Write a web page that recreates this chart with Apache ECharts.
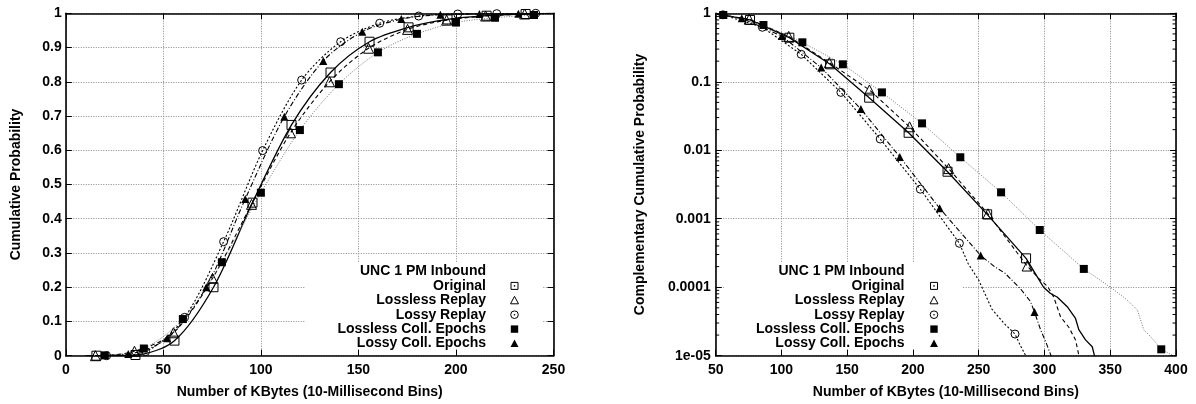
<!DOCTYPE html>
<html><head><meta charset="utf-8">
<script src="https://cdn.jsdelivr.net/npm/echarts@6/dist/echarts.min.js"></script>
<style>html,body{margin:0;padding:0;background:#fff}#c{width:1196px;height:404px}</style>
</head><body><div id="c"></div>
<script>
// ---------- DATA ----------
const seriesNames = ['Original', 'Lossless Replay', 'Lossy Replay', 'Lossless Coll. Epochs', 'Lossy Coll. Epochs'];
const keyTitle = 'UNC 1 PM Inbound';
const xAxisName = 'Number of KBytes (10-Millisecond Bins)';
const cdfYName = 'Cumulative Probability';
const ccdfYName = 'Complementary Cumulative Probability';
const ccdfTickLabels = ['1e-05', '0.0001', '0.001', '0.01', '0.1', '1'];
const ccdfDecades = [1e-5, 1e-4, 1e-3, 1e-2, 1e-1];
const ccdfMinorMultipliers = [2, 3, 4, 5, 6, 7, 8, 9];

// Left chart (CDF): points carrying markers, and extra line-only points
const cdfOriginalMarks = [[15.7,0],[35.7,0.002],[55.7,0.044],[75.7,0.2],[95.7,0.447],[115.7,0.674],[135.7,0.827],[155.7,0.917],[175.7,0.959],[195.7,0.982],[215.7,0.993],[235.7,0.998]];
const cdfOriginalExtra = [[12,0],[250,1]];
const cdfLosslessReplayMarks = [[15.2,0],[35.2,0.013],[55.2,0.067],[75.2,0.226],[95.2,0.442],[115.2,0.651],[135.2,0.80],[155.2,0.898],[175.2,0.953],[195.2,0.98],[215.2,0.992],[235.2,0.998]];
const cdfLosslessReplayExtra = [[12,0],[250,1]];
const cdfLossyReplayMarks = [[20.9,0],[40.9,0.012],[60.9,0.112],[80.9,0.333],[100.9,0.599],[120.9,0.805],[140.9,0.917],[160.9,0.971],[180.9,0.992],[200.9,0.998],[220.9,0.999],[240.9,1]];
const cdfLossyReplayExtra = [[12,0],[250,1]];
const cdfLosslessCollMarks = [[20,0.001],[40,0.021],[60,0.107],[80,0.273],[100,0.476],[120,0.659],[140,0.793],[160,0.886],[180,0.94],[200,0.973],[220,0.987],[240,0.995]];
const cdfLosslessCollExtra = [[12,0],[250,0.998]];
const cdfLossyCollMarks = [[32,0.005],[52,0.051],[72,0.2],[92,0.458],[112,0.698],[132,0.861],[152,0.946],[172,0.983],[192,0.996],[212,0.998],[232,0.999]];
const cdfLossyCollExtra = [[10,0],[250,1]];

// Right chart (CCDF, log scale)
const ccdfOriginalMarks = [[76.1,0.80],[106,0.44],[137,0.18],[166.7,0.0586],[196.7,0.018],[226.3,0.00486],[256.4,0.00116],[286,0.000264]];
const ccdfOriginalExtra = [[50,0.98],[294.4,1.43e-4],[299.3,1.0e-4],[304.6,8.1e-5],[309.6,7.2e-5],[317.3,5.2e-5],[323.6,3.5e-5],[326.1,2.4e-5],[331.2,1.7e-5],[336.3,1.35e-5],[338,1.0e-5],[339,0.9e-5]];
const ccdfLosslessReplayMarks = [[75.5,0.82],[105.5,0.46],[136.4,0.19],[166.9,0.076],[197.4,0.022],[227.1,0.0054],[257,0.00118],[286.8,0.000204]];
const ccdfLosslessReplayExtra = [[50,0.98],[295.6,1.35e-4],[302.5,1.02e-4],[307,7.2e-5],[312.2,3.7e-5],[318.5,2.6e-5],[323.6,1.7e-5],[326.1,1.02e-5],[327,0.9e-5]];
const ccdfLossyReplayMarks = [[55.5,0.95],[85.5,0.625],[115,0.252],[145.2,0.070],[175.1,0.0146],[205.6,0.0027],[235.3,0.000438],[277.6,2.07e-5]];
const ccdfLossyReplayExtra = [[50,0.98],[242,2.2e-4],[250,1.27e-4],[260,4.8e-5],[269,3.0e-5],[281.7,1.4e-5],[285.5,1.02e-5],[286.5,0.9e-5]];
const ccdfLosslessCollMarks = [[55.8,0.944],[86.3,0.675],[115.9,0.377],[146.7,0.18],[176.4,0.070],[206.9,0.0247],[236,0.0079],[267,0.00243],[296.4,0.000685],[329.9,0.000185],[388.8,1.24e-5]];
const ccdfLosslessCollExtra = [[50,0.98],[350.2,1.0e-4],[362.9,6.5e-5],[370.6,4.65e-5],[375.6,2.37e-5],[380.7,1.9e-5],[397.2,1.02e-5],[399,0.95e-5]];
const ccdfLossyCollMarks = [[69.8,0.845],[100.2,0.466],[130.2,0.161],[160.4,0.040],[190,0.008],[220.3,0.00142],[251.5,0.00029],[292.4,4.35e-5]];
const ccdfLossyCollExtra = [[50,0.98],[262,2.0e-4],[270,1.6e-4],[281.7,9.5e-5],[289.3,6.2e-5],[297,2.4e-5],[301.5,1.5e-5],[305,1.0e-5],[306,0.9e-5]];

const cdfMarks = [cdfOriginalMarks, cdfLosslessReplayMarks, cdfLossyReplayMarks, cdfLosslessCollMarks, cdfLossyCollMarks];
const cdfExtra = [cdfOriginalExtra, cdfLosslessReplayExtra, cdfLossyReplayExtra, cdfLosslessCollExtra, cdfLossyCollExtra];
const ccdfMarks = [ccdfOriginalMarks, ccdfLosslessReplayMarks, ccdfLossyReplayMarks, ccdfLosslessCollMarks, ccdfLossyCollMarks];
const ccdfExtra = [ccdfOriginalExtra, ccdfLosslessReplayExtra, ccdfLossyReplayExtra, ccdfLosslessCollExtra, ccdfLossyCollExtra];

// ---------- STYLE ----------
const FONT = '"Liberation Sans", Arial, Helvetica, sans-serif';
const HOLLOW = 'rgba(0,0,0,0)';
const styles = [
  {line: {type: 'solid', color: '#000', width: 1.3}, symbol: 'rect', size: 9, fill: HOLLOW, border: 1},
  {line: {type: [4, 3], color: '#000', width: 1.1}, symbol: 'triangle', size: 10, fill: HOLLOW, border: 1},
  {line: {type: [2, 2], color: '#000', width: 1.1}, symbol: 'circle', size: 8, fill: HOLLOW, border: 1},
  {line: {type: [1, 1.5], color: '#777', width: 1}, symbol: 'rect', size: 8, fill: '#000', border: 0},
  {line: {type: [5, 2, 1, 2], color: '#000', width: 1.1}, symbol: 'triangle', size: 8, fill: '#000', border: 0}
];

function merged(marks, extra) {
  return marks.concat(extra).sort((a, b) => a[0] - b[0]);
}

const series = [];
function addSeries(marksArr, extraArr, xi, yi, smooth) {
  seriesNames.forEach((name, i) => {
    const s = styles[i];
    series.push({
      name: name, type: 'line', xAxisIndex: xi, yAxisIndex: yi,
      data: merged(marksArr[i], extraArr[i]),
      showSymbol: false, symbol: 'none',
      smooth: smooth ? 0.3 : false,
      lineStyle: {color: s.line.color, width: s.line.width, type: s.line.type},
      itemStyle: {color: s.line.color}, z: 2, silent: true
    });
  });
  seriesNames.forEach((name, i) => {
    const s = styles[i];
    series.push({
      name: name, type: 'scatter', xAxisIndex: xi, yAxisIndex: yi,
      data: marksArr[i], symbol: s.symbol, symbolSize: s.size,
      itemStyle: {color: s.fill, borderColor: '#000', borderWidth: s.border, opacity: 1},
      z: 4, silent: true
    });
  });
}
addSeries(cdfMarks, cdfExtra, 0, 0, true);
addSeries(ccdfMarks, ccdfExtra, 2, 2, false);

// minor ticks of the log axis (2..9 per decade), drawn at both side borders
const minorTickValues = [];
ccdfDecades.forEach(d => ccdfMinorMultipliers.forEach(m => minorTickValues.push(d * m)));
series.push({
  type: 'custom', xAxisIndex: 2, yAxisIndex: 2, silent: true, clip: false, z: 5,
  data: minorTickValues.map(v => [50, v]),
  renderItem: function (params, api) {
    const v = api.value(1);
    const a = api.coord([50, v]);
    const b = api.coord([400, v]);
    return {type: 'group', children: [
      {type: 'line', shape: {x1: a[0], y1: a[1], x2: a[0] + 3.5, y2: a[1]}, style: {stroke: '#000', lineWidth: 1}},
      {type: 'line', shape: {x1: b[0] - 3.5, y1: b[1], x2: b[0], y2: b[1]}, style: {stroke: '#000', lineWidth: 1}}
    ]};
  }
});

const axisLine = {show: true, onZero: false, lineStyle: {color: '#000', width: 1.6}};
const axisTick = {show: true, inside: true, length: 6, lineStyle: {color: '#000', width: 1}};
const splitLine = {show: true, lineStyle: {color: '#888', width: 1, type: [1, 1.5]}};
const labelStyle = {color: '#000', fontFamily: FONT, fontWeight: 'bold', fontSize: 14};
const nameStyle = {color: '#000', fontFamily: FONT, fontWeight: 'bold', fontSize: 14};

function mirrorX(grid, min, max, interval) {
  return {type: 'value', gridIndex: grid, position: 'top', min, max, interval,
    axisLine, axisTick, axisLabel: {show: false}, splitLine: {show: false}};
}

const xAxis = [
  {type: 'value', gridIndex: 0, position: 'bottom', min: 0, max: 250, interval: 50,
   name: xAxisName, nameLocation: 'middle', nameGap: 29, nameTextStyle: nameStyle,
   axisLine, axisTick, splitLine, axisLabel: Object.assign({margin: 7}, labelStyle)},
  mirrorX(0, 0, 250, 50),
  {type: 'value', gridIndex: 1, position: 'bottom', min: 50, max: 400, interval: 50,
   name: xAxisName, nameLocation: 'middle', nameGap: 29, nameTextStyle: nameStyle,
   axisLine, axisTick, splitLine, axisLabel: Object.assign({margin: 7}, labelStyle)},
  mirrorX(1, 50, 400, 50)
];

const yAxis = [
  {type: 'value', gridIndex: 0, position: 'left', min: 0, max: 1, interval: 0.1,
   name: cdfYName, nameLocation: 'middle', nameGap: 43, nameTextStyle: nameStyle,
   axisLine, axisTick, splitLine, axisLabel: Object.assign({margin: 4}, labelStyle)},
  {type: 'value', gridIndex: 0, position: 'right', min: 0, max: 1, interval: 0.1,
   axisLine, axisTick, axisLabel: {show: false}, splitLine: {show: false}},
  {type: 'log', logBase: 10, gridIndex: 1, position: 'left', min: 1e-5, max: 1,
   name: ccdfYName, nameLocation: 'middle', nameGap: 69, nameTextStyle: nameStyle,
   axisLine, axisTick, splitLine,
   axisLabel: Object.assign({margin: 5, formatter: v => ccdfTickLabels[Math.round(Math.log10(v)) + 5]}, labelStyle)},
  {type: 'log', logBase: 10, gridIndex: 1, position: 'right', min: 1e-5, max: 1,
   axisLine, axisTick, axisLabel: {show: false}, splitLine: {show: false}}
];

// ---------- KEY (legend) ----------
const keyFont = 'bold 14px ' + FONT;
function keyGraphics(box, textRight, symX, y0) {
  const els = [];
  els.push({type: 'rect', shape: {x: box[0], y: box[1], width: box[2] - box[0], height: box[3] - box[1]},
    style: {fill: '#fff'}, z: 1, silent: true});
  const step = 14.4;
  const txt = (t, y) => ({type: 'text', x: textRight, y: y, z: 6, silent: true,
    style: {text: t, font: keyFont, fill: '#000', textAlign: 'right', textVerticalAlign: 'middle', align: 'right', verticalAlign: 'middle'}});
  els.push(txt(keyTitle, y0));
  seriesNames.forEach((n, i) => {
    const y = y0 + step * (i + 1);
    els.push(txt(n, y));
    const sx = symX;
    const stroke = {fill: 'none', stroke: '#000', lineWidth: 1};
    if (i === 0) {
      els.push({type: 'rect', shape: {x: sx - 3.5, y: y - 3.5, width: 7, height: 7}, style: stroke, z: 6});
      els.push({type: 'circle', shape: {cx: sx, cy: y, r: 0.8}, style: {fill: '#000'}, z: 6});
    } else if (i === 1) {
      els.push({type: 'polygon', shape: {points: [[sx, y - 4], [sx - 4, y + 3.5], [sx + 4, y + 3.5]]}, style: stroke, z: 6});
    } else if (i === 2) {
      els.push({type: 'circle', shape: {cx: sx, cy: y, r: 3.8}, style: stroke, z: 6});
      els.push({type: 'circle', shape: {cx: sx, cy: y, r: 0.8}, style: {fill: '#000'}, z: 6});
    } else if (i === 3) {
      els.push({type: 'rect', shape: {x: sx - 3.7, y: y - 3.7, width: 7.4, height: 7.4}, style: {fill: '#000'}, z: 6});
    } else {
      els.push({type: 'polygon', shape: {points: [[sx, y - 4], [sx - 4, y + 3.5], [sx + 4, y + 3.5]]}, style: {fill: '#000'}, z: 6});
    }
  });
  return els;
}

const graphic = {elements: [].concat(
  keyGraphics([305, 263, 543, 349], 486, 514.5, 271.5),
  keyGraphics([724, 263, 962, 349], 904.5, 934, 271.5)
)};

const chart = echarts.init(document.getElementById('c'), null, {renderer: 'canvas'});
chart.setOption({
  animation: false,
  backgroundColor: '#fff',
  textStyle: {fontFamily: FONT},
  grid: [
    {left: 65.8, top: 13.3, width: 487.7, height: 342.4},
    {left: 715.7, top: 13.3, width: 460.3, height: 342.4}
  ],
  xAxis, yAxis, series, graphic
});
</script>
</body></html>
